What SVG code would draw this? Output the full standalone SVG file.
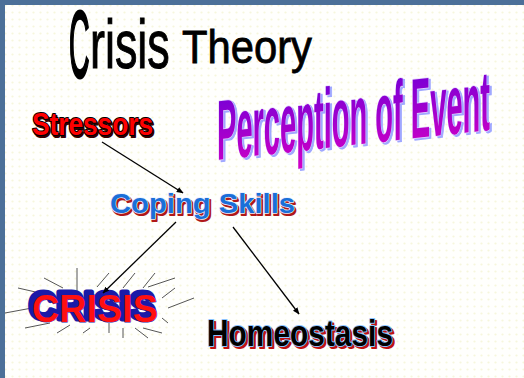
<svg xmlns="http://www.w3.org/2000/svg" width="524" height="378" viewBox="0 0 524 378">
<defs>
<pattern id="dots" x="2" y="2" width="7" height="7" patternUnits="userSpaceOnUse">
<rect width="7" height="7" fill="#fffffd"/>
<circle cx="3.5" cy="3.5" r="1.1" fill="#f6f6dc"/>
</pattern>
<linearGradient id="purp" x1="0" y1="0" x2="0" y2="1">
<stop offset="0" stop-color="#6a00d8"/>
<stop offset="1" stop-color="#d400c4"/>
</linearGradient>
<marker id="arr" viewBox="0 0 10 10" refX="9" refY="5" markerWidth="7" markerHeight="7" orient="auto" markerUnits="userSpaceOnUse">
<path d="M0,1 L10,5 L0,9 z" fill="#000"/>
</marker>
<style>
.bold{font-family:"Liberation Sans",Arial,sans-serif;font-weight:bold;paint-order:stroke;stroke-linejoin:round}
.reg{font-family:"Liberation Sans",Arial,sans-serif}
.con{stroke:#000;stroke-width:1.3;fill:none;marker-end:url(#arr)}
.ray{stroke:#555;stroke-width:1;fill:none}
</style>
</defs>
<rect width="524" height="378" fill="#4c7099"/>
<rect x="5" y="5" width="519" height="373" fill="url(#dots)"/>

<g id="title">
<text class="reg" transform="translate(69,77) scale(0.3,1)" font-size="95" fill="#000" stroke="#000" stroke-width="3">C</text>
<text class="reg" transform="translate(90,68) scale(0.66,1)" font-size="68" fill="#000" stroke="#000" stroke-width="1">risis</text>
<text class="reg" x="182" y="63" font-size="46" textLength="130" lengthAdjust="spacingAndGlyphs" fill="#000" stroke="#000" stroke-width="0.8">Theory</text>
</g>

<g id="perception" transform="translate(217,160) skewY(-6.3) scale(1,1.15)">
<text class="bold" x="2" y="1.5" font-size="74" textLength="273" lengthAdjust="spacingAndGlyphs" fill="#a0a8ff" stroke="#a0a8ff" stroke-width="1.5">Perception of Event</text>
<text class="bold" x="0" y="0" font-size="74" textLength="273" lengthAdjust="spacingAndGlyphs" fill="url(#purp)" stroke="#e6d4ff" stroke-width="1.2">Perception of Event</text>
</g>

<g id="stressors">
<text class="bold" x="33.5" y="136.5" font-size="32" textLength="121" lengthAdjust="spacingAndGlyphs" fill="#300" stroke="#300" stroke-width="2">Stressors</text>
<text class="bold" x="32" y="135" font-size="32" textLength="121" lengthAdjust="spacingAndGlyphs" fill="#ff0000" stroke="#000" stroke-width="2">Stressors</text>
</g>

<g id="coping">
<text class="bold" x="111.5" y="214.5" font-size="28" textLength="185" lengthAdjust="spacingAndGlyphs" fill="#b01818" stroke="#b01818" stroke-width="2">Coping Skills</text>
<text class="bold" x="110" y="213" font-size="28" textLength="185" lengthAdjust="spacingAndGlyphs" fill="#1a6fd8" stroke="#e8f0ff" stroke-width="1.5">Coping Skills</text>
</g>

<g id="crisis">
<g class="ray">
<line x1="77" y1="268" x2="77" y2="293"/>
<line x1="44" y1="278" x2="63" y2="288"/>
<line x1="18" y1="288" x2="40" y2="293"/>
<line x1="5" y1="313" x2="32" y2="308"/>
<line x1="25" y1="328" x2="50" y2="323"/>
<line x1="57" y1="333" x2="70" y2="325"/>
<line x1="83" y1="333" x2="90" y2="328"/>
<line x1="109" y1="323" x2="109" y2="333"/>
<line x1="123" y1="328" x2="123" y2="338"/>
<line x1="135" y1="328" x2="148" y2="338"/>
<line x1="143" y1="328" x2="162" y2="333"/>
<line x1="162" y1="318" x2="168" y2="323"/>
<line x1="168" y1="308" x2="194" y2="298"/>
<line x1="162" y1="298" x2="175" y2="288"/>
<line x1="148" y1="287" x2="175" y2="278"/>
<line x1="143" y1="288" x2="155" y2="273"/>
<line x1="123" y1="288" x2="135" y2="273"/>
<line x1="97" y1="287" x2="109" y2="273"/>
</g>
<text class="bold" x="29" y="319" font-size="38" textLength="126" lengthAdjust="spacingAndGlyphs" fill="#1a1aa8" stroke="#1a1aa8" stroke-width="5">CRISIS</text>
<text class="bold" x="32" y="322" font-size="38" textLength="126" lengthAdjust="spacingAndGlyphs" fill="#ff1010" stroke="#1a1aa8" stroke-width="1">CRISIS</text>
</g>

<g id="homeostasis">
<text class="bold" x="209" y="348" font-size="36" textLength="186" lengthAdjust="spacingAndGlyphs" fill="#c01010" stroke="#c01010" stroke-width="2">Homeostasis</text>
<text class="bold" x="207" y="346" font-size="36" textLength="186" lengthAdjust="spacingAndGlyphs" fill="#000" stroke="#8cc4ff" stroke-width="2">Homeostasis</text>
</g>

<g id="connectors">
<line class="con" x1="102" y1="142" x2="183" y2="193"/>
<line class="con" x1="176" y1="222" x2="103" y2="293"/>
<line class="con" x1="233" y1="227" x2="299" y2="314"/>
</g>
</svg>
